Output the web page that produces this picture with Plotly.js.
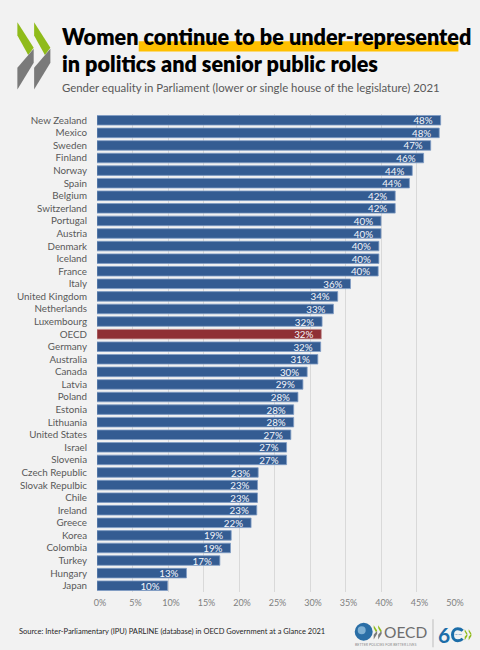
<!DOCTYPE html>
<html><head><meta charset="utf-8">
<script src="https://cdn.plot.ly/plotly-3.0.0.min.js"></script>
<style>html,body{margin:0;padding:0;background:#f2f2f2}#c{width:480px;height:650px}</style>
</head><body><div id="c"></div>
<script>
const categories = ["New Zealand","Mexico","Sweden","Finland","Norway","Spain","Belgium","Switzerland","Portugal","Austria","Denmark","Iceland","France","Italy","United Kingdom","Netherlands","Luxembourg","OECD","Germany","Australia","Canada","Latvia","Poland","Estonia","Lithuania","United States","Israel","Slovenia","Czech Republic","Slovak Repulbic","Chile","Ireland","Greece","Korea","Colombia","Turkey","Hungary","Japan"];
const values = [48.4,48.2,47.0,46.0,44.4,44.0,42.0,42.0,40.0,40.0,39.7,39.7,39.6,35.7,33.9,33.3,31.7,31.6,31.5,31.1,29.6,29.0,28.3,27.7,27.7,27.3,26.7,26.7,22.7,22.6,22.6,22.5,21.7,18.9,18.8,17.3,12.6,9.95];
const labels = ["48%","48%","47%","46%","44%","44%","42%","42%","40%","40%","40%","40%","40%","36%","34%","33%","32%","32%","32%","31%","30%","29%","28%","28%","28%","27%","27%","27%","23%","23%","23%","23%","22%","19%","19%","17%","13%","10%"];
const tickVals = [0,5,10,15,20,25,30,35,40,45,50];
const tickLabels = ["0%","5%","10%","15%","20%","25%","30%","35%","40%","45%","50%"];

const W=480,H=650,L=97.3,R=27.7,T=114.4,B=58.2;
const fx=x=>(x-L)/(W-L-R), fy=y=>1-(y-T)/(H-T-B);
const path=(pts)=>'M'+pts.map(p=>fx(p[0])+','+fy(p[1])).join('L')+'Z';
const poly=(pts,color)=>({type:'path',xref:'paper',yref:'paper',path:path(pts),fillcolor:color,line:{width:0},layer:'below'});
const txt=(x,y,text,size,color,family,anchor,weight)=>({xref:'paper',yref:'paper',x:fx(x),y:fy(y),text,showarrow:false,xanchor:anchor||'left',yanchor:'middle',align:'left',borderpad:0,borderwidth:0,font:{size,color,family,weight:weight||400}});
const chev=(dx,dy,s,g,c)=>[
  poly([[0,0],[16.3,25.6],[10.8,32.8],[0,13.3]].map(p=>[dx+p[0]*s,dy+p[1]*s]),g),
  poly([[0,67.3],[16.3,40.6],[16.3,26.6],[0,45.6]].map(p=>[dx+p[0]*s,dy+p[1]*s]),c)];
const green='#8fbb1a',gray='#7a7a7a';
const P=(x,y)=>fx(x)+','+fy(y);
const shapes=[
  ...chev(17.7,22.7,1,green,gray),...chev(34.4,22.7,1,green,gray),
  {type:'rect',xref:'paper',yref:'paper',x0:fx(139),x1:fx(458.7),y0:fy(52),y1:fy(41.7),fillcolor:'#ffc000',line:{width:0},layer:'below'},
  {type:'circle',xref:'paper',yref:'paper',x0:fx(355),x1:fx(373),y0:fy(640.5),y1:fy(622.5),fillcolor:'#2a6ea6',line:{width:0},layer:'below'},
  {type:'circle',xref:'paper',yref:'paper',x0:fx(358),x1:fx(366),y0:fy(634),y1:fy(626),fillcolor:'#7fb0d3',line:{width:0},layer:'below'},
  ...chev(374,625,0.21,green,gray),...chev(378.5,625,0.21,green,gray),
  {type:'line',xref:'paper',yref:'paper',x0:fx(433.3),x1:fx(433.3),y0:fy(619),y1:fy(647),line:{color:'#bdbdbd',width:1},layer:'below'},
  {type:'path',xref:'paper',yref:'paper',layer:'below',fillcolor:'rgba(0,0,0,0)',line:{color:'#1c6da8',width:3},
   path:'M'+P(463,630.5)+'Q'+P(461,628.5)+' '+P(458,628.5)+'C'+P(455,628.5)+' '+P(452.8,631.2)+' '+P(452.8,634.5)+'C'+P(452.8,637.8)+' '+P(455,640.5)+' '+P(458,640.5)+'Q'+P(461,640.5)+' '+P(463,638.5)},
  ...chev(465,629,0.165,green,green),...chev(469,629,0.165,green,green)
];
const titleFont='Lato';
const annotations=[
  txt(62.5,37.5,'Women continue to be under-represented',21.6,'#000000',titleFont,'left',800),
  txt(62.5,64,'in politics and senior public roles',21.6,'#000000',titleFont,'left',800),
  txt(62.5,87.5,'Gender equality in Parliament (lower or single house of the legislature) 2021',11.4,'#595959','Lato'),
  txt(19,631,'Source: Inter-Parliamentary (IPU) PARLINE (database) in OECD Government at a Glance 2021',7.5,'#262626','Lato'),
  txt(384.5,631.5,'OECD',15.5,'#6e6e6e','Lato'),
  txt(355,643.8,'BETTER POLICIES FOR BETTER LIVES',3.6,'#8a8a8a','Lato'),
  txt(438.5,634.5,'6',21,'#1c6da8','Lato','left',700),
  txt(458.5,634.5,'YEARS',2.5,'#1c6da8','Lato','center')
];
const trace={type:'bar',orientation:'h',y:categories,x:values,
  text:labels.map(s=>s+'\u00a0\u00a0'),textposition:'inside',insidetextanchor:'end',textangle:0,constraintext:'none',cliponaxis:false,
  insidetextfont:{size:9.8,color:'#f4f6fa',family:'Lato'},
  marker:{color:categories.map(c=>c==='OECD'?'#8f3035':'#345c92'),line:{color:categories.map(c=>c==='OECD'?'#c79a9c':'#7f9cc4'),width:0.8}},
  hoverinfo:'skip'};
Plotly.newPlot('c',[trace],{
  width:W,height:H,paper_bgcolor:'#f2f2f2',plot_bgcolor:'#f2f2f2',showlegend:false,
  margin:{l:L,r:R,t:T,b:B,pad:0},bargap:0.24,
  font:{family:'Lato',color:'#595959'},
  xaxis:{range:[0,50],tickmode:'array',tickvals:tickVals,ticktext:tickLabels,showgrid:true,gridcolor:'#d9d9d9',gridwidth:1,zeroline:false,showline:false,ticks:'outside',ticklen:2,tickcolor:'rgba(0,0,0,0)',tickfont:{size:9,color:'#7f7f7f',family:'Lato'},ticklabelshift:3},
  yaxis:{autorange:'reversed',type:'category',tickmode:'array',tickvals:categories,ticktext:categories,showgrid:false,zeroline:false,showline:false,ticks:'outside',ticklen:7,tickcolor:'rgba(0,0,0,0)',tickfont:{size:9.8,color:'#595959',family:'Lato'},automargin:false},
  shapes,annotations
},{displayModeBar:false,staticPlot:true});
</script></body></html>
